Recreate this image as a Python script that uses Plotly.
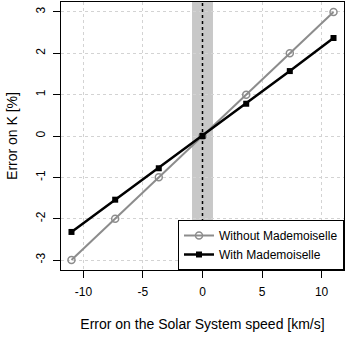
import plotly.graph_objects as go

# speed errors [km/s]
speed_err = [-11, -7.33, -3.67, 0, 3.67, 7.33, 11]
# error on K [%]
k_without = [-3, -2, -1, 0, 1, 2, 3]
k_with = [-2.32, -1.54, -0.78, 0, 0.78, 1.57, 2.37]

x_ticks = [-10, -5, 0, 5, 10]
x_labels = ["-10", "-5", "0", "5", "10"]
y_ticks = [-3, -2, -1, 0, 1, 2, 3]
y_labels = ["-3", "-2", "-1", "0", "1", "2", "3"]
band = [-0.88, 0.88]

fig = go.Figure()

# gray uncertainty band + dotted zero line
fig.add_vrect(x0=band[0], x1=band[1], fillcolor="#c8c8c8", line_width=0, layer="below")
fig.add_vline(x=0, line=dict(color="black", width=1.5, dash="dot"))

fig.add_trace(
    go.Scatter(
        x=speed_err,
        y=k_without,
        mode="lines+markers",
        line=dict(color="#8c8c8c", width=2),
        marker=dict(symbol="circle-open", size=7, color="#8c8c8c", line=dict(width=1.5)),
        name="Without Mademoiselle",
    )
)

fig.add_trace(
    go.Scatter(
        x=speed_err,
        y=k_with,
        mode="lines+markers",
        line=dict(color="black", width=2.5),
        marker=dict(symbol="square", size=6, color="black"),
        name="With Mademoiselle",
    )
)

axis_style = dict(
    showline=True,
    linecolor="black",
    linewidth=1,
    mirror=True,
    ticks="outside",
    ticklen=7,
    tickcolor="black",
    showgrid=True,
    gridcolor="#d3d3d3",
    griddash="dot",
    gridwidth=1,
    zeroline=False,
)

fig.update_xaxes(
    range=[-11.88, 11.88],
    tickvals=x_ticks,
    ticktext=x_labels,
    ticklabelstandoff=4,
    title=dict(text="Error on the Solar System speed [km/s]", standoff=20),
    **axis_style,
)
fig.update_yaxes(
    range=[-3.24, 3.24],
    tickvals=y_ticks,
    ticktext=y_labels,
    tickangle=-90,
    ticklabelstandoff=3,
    title=dict(text="Error on K [%]", standoff=13),
    **axis_style,
)

fig.update_layout(
    width=346,
    height=346,
    margin=dict(l=61, r=2, t=2, b=76),
    plot_bgcolor="white",
    paper_bgcolor="white",
    font=dict(family="Liberation Sans, Arial", size=12, color="black"),
    showlegend=True,
    legend=dict(
        x=1,
        y=0,
        xanchor="right",
        yanchor="bottom",
        bgcolor="white",
        bordercolor="black",
        borderwidth=1,
        tracegroupgap=0,
        itemwidth=30,
        font=dict(size=12),
    ),
)

# drop the default page margin so the figure sits at the window corner
fig.write_html(
    "out.html",
    config={"displayModeBar": False},
    post_script="document.body.style.margin='0';",
)
